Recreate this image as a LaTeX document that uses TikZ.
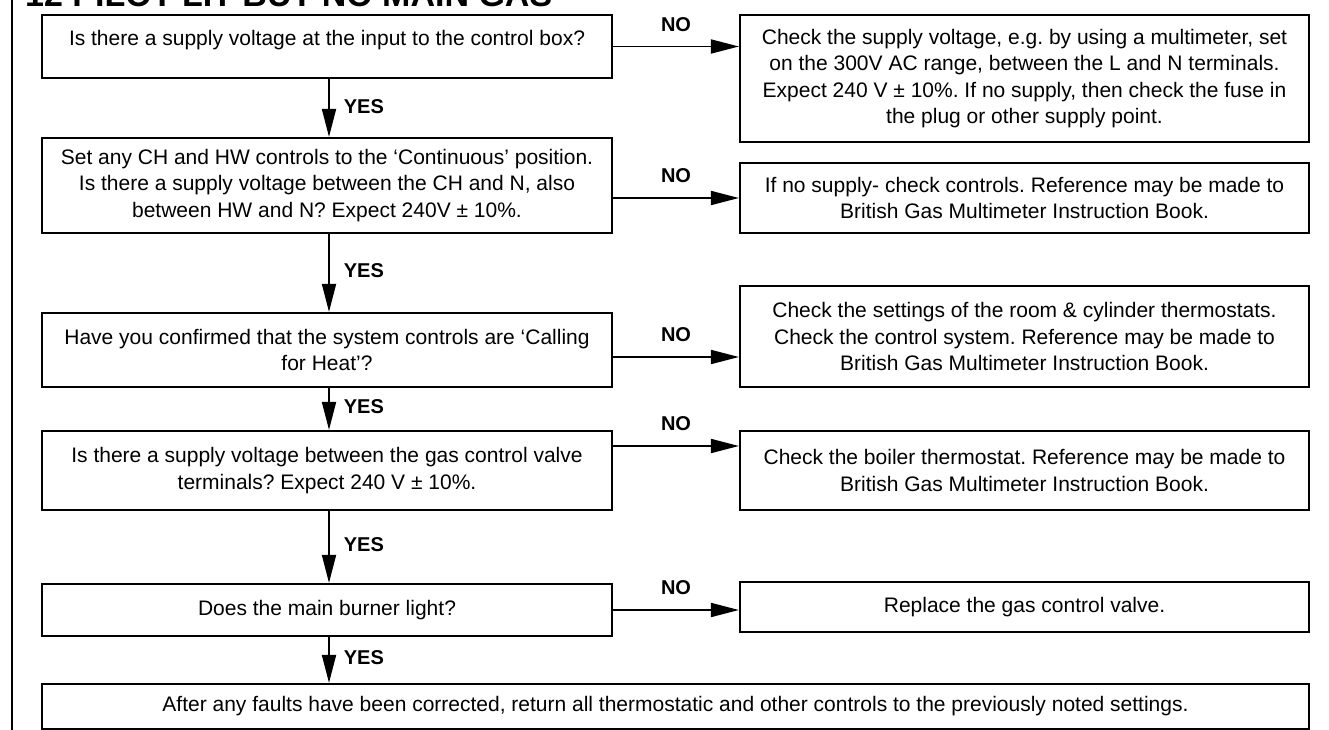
\documentclass[tikz,border=0pt]{standalone}
\usepackage{fontspec}
\setmainfont{Liberation Sans}
\usetikzlibrary{arrows.meta,calc}
\newcommand\boxfont{\fontsize{21}{26.5}\selectfont}
\newcommand\labfont{\fontsize{20}{24}\selectfont\bfseries}
\frenchspacing
\begin{document}
\begin{tikzpicture}[x=1pt,y=-1pt,
  flowbox/.style={draw, line width=2.2pt, minimum width=570pt, align=center, font=\boxfont, inner sep=0pt},
  rbox/.style={flowbox, minimum width=569pt},
  arr/.style={line width=1.8pt, -{Triangle[length=28pt,width=14pt]}},
  yeslab/.style={font=\labfont, inner sep=0pt, right=14pt},
  nolab/.style={font=\labfont, inner sep=0pt, above=14pt}]
\useasboundingbox (0,0) rectangle (1329,730);
% frame line and clipped title
\draw[line width=2.5pt] (12,-2) -- (12,732);
\begin{scope}
  \clip (14,0) rectangle (700,9);
  \node[anchor=base west, inner sep=0pt, font=\fontsize{34}{40}\selectfont\bfseries] (title) at (25,7) {12 PILOT LIT BUT NO MAIN GAS};
\end{scope}
% left column
\node[flowbox, minimum height=63pt] (b1) at (327,46.5) {\raisebox{6pt}[\height][\depth]{Is there a supply voltage at the input to the control box?}};
\node[flowbox, minimum height=95pt] (b2) at (327,185.5) {Set any CH and HW controls to the ‘Continuous’ position.\\Is there a supply voltage between the CH and N, also\\between HW and N? Expect 240V ± 10\%.};
\node[flowbox, minimum height=74pt] (b3) at (327,350) {Have you confirmed that the system controls are ‘Calling\\for Heat’?};
\node[flowbox, minimum height=79pt] (b4) at (327,470.5) {Is there a supply voltage between the gas control valve\\terminals? Expect 240 V ± 10\%.};
\node[flowbox, minimum height=52pt] (b5) at (327,610) {Does the main burner light?};
\node[flowbox, minimum width=1267pt, minimum height=45pt] (b6) at (675.5,706.5) {After any faults have been corrected, return all thermostatic and other controls to the previously noted settings.};
% right column
\node[rbox, minimum height=127pt] (r1) at (1024.5,78.5) {Check the supply voltage, e.g. by using a multimeter, set\\on the 300V AC range, between the L and N terminals.\\Expect 240 V ± 10\%. If no supply, then check the fuse in\\the plug or other supply point.};
\node[rbox, minimum height=70pt] (r2) at (1024.5,198) {If no supply- check controls. Reference may be made to\\British Gas Multimeter Instruction Book.};
\node[rbox, minimum height=101pt] (r3) at (1024.5,336.5) {Check the settings of the room \& cylinder thermostats.\\Check the control system. Reference may be made to\\British Gas Multimeter Instruction Book.};
\node[rbox, minimum height=79pt] (r4) at (1024.5,470.5) {Check the boiler thermostat. Reference may be made to\\British Gas Multimeter Instruction Book.};
\node[rbox, minimum height=50pt] (r5) at (1024.5,607) {Replace the gas control valve.};
% YES arrows
\draw[arr] ([xshift=2pt]b1.south) -- ([xshift=2pt]b2.north) node[yeslab, pos=0.47] {YES};
\draw[arr] ([xshift=2pt]b2.south) -- ([xshift=2pt]b3.north) node[yeslab, pos=0.47] {YES};
\draw[arr] ([xshift=2pt]b3.south) -- ([xshift=2pt]b4.north) node[yeslab, pos=0.45] {YES};
\draw[arr] ([xshift=2pt]b4.south) -- ([xshift=2pt]b5.north) node[yeslab, pos=0.47] {YES};
\draw[arr] ([xshift=2pt]b5.south) -- ([xshift=2pt]b5.south |- b6.north) node[yeslab, pos=0.45] {YES};
% NO arrows
\draw[arr] (b1.east) -- (b1.east -| r1.west) node[nolab, midway] {NO};
\draw[arr] (b2.east |- r2.west) -- (r2.west) node[nolab, midway] {NO};
\draw[arr] ([yshift=-7pt]b3.east) -- ([yshift=-7pt]b3.east -| r3.west) node[nolab, midway] {NO};
\draw[arr] ([yshift=24.5pt]b4.east) -- ([yshift=24.5pt]b4.east -| r4.west) node[nolab, midway] {NO};
\draw[arr] (b5.east) -- (b5.east -| r5.west) node[nolab, midway] {NO};
\end{tikzpicture}
\end{document}
